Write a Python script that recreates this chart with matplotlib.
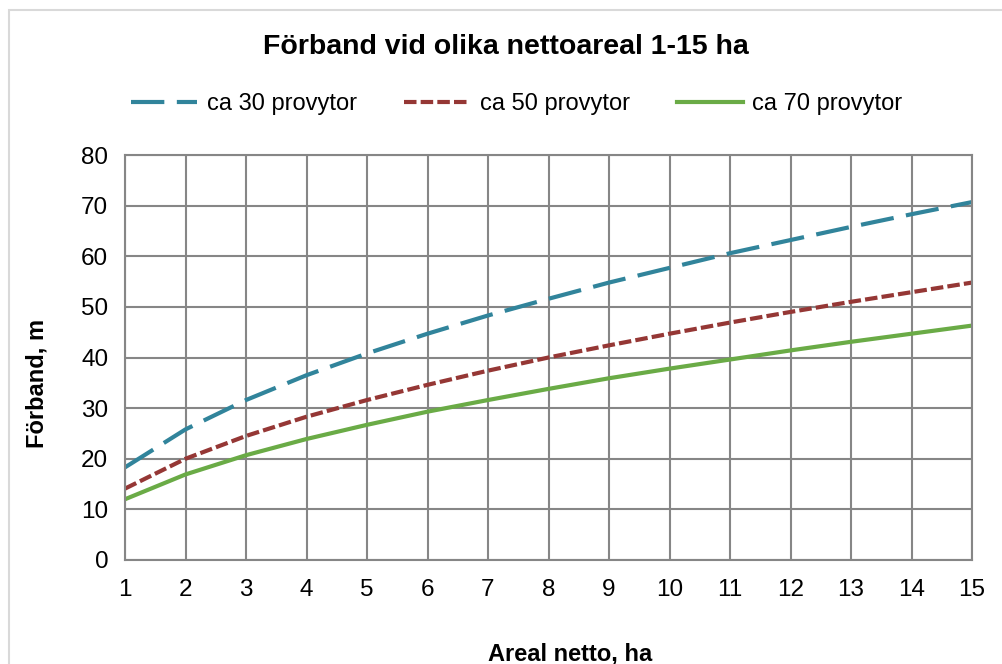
import matplotlib.pyplot as plt
from matplotlib.patches import Rectangle

plt.rcParams['font.family'] = ['Liberation Sans', 'DejaVu Sans']

# Areal netto, ha
areal = [1, 2, 3, 4, 5, 6, 7, 8, 9, 10, 11, 12, 13, 14, 15]
# Förband (m)
ca30 = [18.3, 25.8, 31.6, 36.5, 40.8, 44.7, 48.3, 51.6, 54.8, 57.7, 60.6, 63.2, 65.8, 68.3, 70.7]
ca50 = [14.1, 20.0, 24.5, 28.3, 31.6, 34.6, 37.4, 40.0, 42.4, 44.7, 46.9, 49.0, 51.0, 52.9, 54.8]
ca70 = [12.0, 16.9, 20.7, 23.9, 26.7, 29.3, 31.6, 33.8, 35.9, 37.8, 39.6, 41.4, 43.1, 44.7, 46.3]
labels = ['ca 30 provytor', 'ca 50 provytor', 'ca 70 provytor']

W, H = 1002, 664
fig = plt.figure(figsize=(W / 100, H / 100), dpi=100)
fig.patches.append(Rectangle((9 / W, -0.1), 1.2, 1 - 10 / H + 0.1, transform=fig.transFigure,
                             fill=False, edgecolor='#d9d9d9', linewidth=1.5))

ax = fig.add_axes([125 / W, 1 - 560 / H, (972 - 125) / W, (560 - 155) / H])

lw = 3.0
ax.plot(areal, ca30, color='#31849b', lw=lw, dashes=(8, 3), label=labels[0])
ax.plot(areal, ca50, color='#953735', lw=lw, dashes=(3, 1), label=labels[1])
ax.plot(areal, ca70, color='#6aab46', lw=lw, label=labels[2])

ax.set_xlim(1, 15)
ax.set_ylim(0, 80)
ax.set_xticks(areal)
ax.set_yticks(range(0, 81, 10))
ax.grid(True, color='#868686', lw=1.5)
ax.set_axisbelow(True)
for s in ax.spines.values():
    s.set_color('#868686')
    s.set_linewidth(1.5)
ax.tick_params(length=0, labelsize=17.5, pad=12)
ax.tick_params(axis='x', pad=14)

fig.text(506 / W, 1 - 47 / H, 'Förband vid olika nettoareal 1-15 ha', ha='center', va='center',
         fontsize=20.5, fontweight='bold')
fig.text(37 / W, 1 - 383 / H, 'Förband, m', rotation=90, ha='center', va='center',
         fontsize=17, fontweight='bold')
fig.text(570 / W, 1 - 654 / H, 'Areal netto, ha', ha='center', va='center',
         fontsize=17, fontweight='bold')

fig.legend(loc='center', bbox_to_anchor=(517 / W, 1 - 104 / H), ncol=3, frameon=False,
           fontsize=17, handlelength=2.8, handletextpad=0.4, columnspacing=2.0)

fig.savefig('out.png', dpi=100)
